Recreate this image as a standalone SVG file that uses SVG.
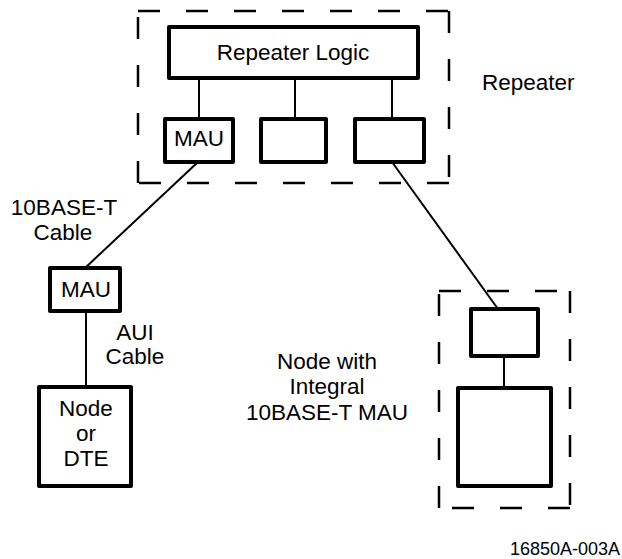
<svg xmlns="http://www.w3.org/2000/svg" width="622" height="559" viewBox="0 0 622 559">
  <style>
    .box { fill: #fff; stroke: #000; stroke-width: 4; stroke-linejoin: round; }
    .frame { fill: none; stroke: #000; stroke-width: 2.5; stroke-dasharray: 22 26; }
    .wire { fill: none; stroke: #000; stroke-width: 2; }
    text { font-family: "Liberation Sans", Arial, sans-serif; font-size: 22.5px; fill: #000; }
    .c { text-anchor: middle; }
    .tag { font-size: 18px; text-anchor: end; }
  </style>
  <rect width="622" height="559" fill="#fff"/>

  <!-- dashed enclosures -->
  <g id="repeater-frame">
    <path class="frame" d="M138 11 H449 M449 11 V183 M449 183 H138 M138 183 V11"/>
    <text x="482" y="90">Repeater</text>
  </g>
  <g id="node-frame">
    <path class="frame" d="M439 291 H570 M570 291 V508 M570 508 H439 M439 508 V291"/>
  </g>

  <!-- connectors -->
  <g id="connectors">
    <line class="wire" x1="199" y1="78" x2="199" y2="119"/>
    <line class="wire" x1="295" y1="78" x2="295" y2="119"/>
    <line class="wire" x1="392" y1="78" x2="392" y2="119"/>
    <line class="wire" x1="198" y1="162" x2="85" y2="268"/>
    <line class="wire" x1="392" y1="162" x2="498" y2="309"/>
    <line class="wire" x1="86" y1="311" x2="86" y2="387"/>
    <line class="wire" x1="504" y1="356" x2="504" y2="388"/>
  </g>

  <!-- nodes -->
  <g id="repeater-logic">
    <rect class="box" x="169" y="27" width="249" height="51"/>
    <text class="c" x="293" y="60">Repeater Logic</text>
  </g>
  <g id="repeater-mau">
    <rect class="box" x="165" y="119" width="68" height="43"/>
    <text class="c" x="199" y="146">MAU</text>
  </g>
  <g id="repeater-port2">
    <rect class="box" x="261" y="119" width="65" height="43"/>
  </g>
  <g id="repeater-port3">
    <rect class="box" x="355" y="119" width="69" height="43"/>
  </g>
  <g id="external-mau">
    <rect class="box" x="50" y="268" width="70" height="43"/>
    <text class="c" x="86" y="297">MAU</text>
  </g>
  <g id="dte-node">
    <rect class="box" x="39" y="387" width="92" height="99"/>
    <text class="c" x="86" y="416">Node</text>
    <text class="c" x="86" y="441">or</text>
    <text class="c" x="86" y="466">DTE</text>
  </g>
  <g id="integral-mau">
    <rect class="box" x="471" y="309" width="67" height="47"/>
  </g>
  <g id="integral-node">
    <rect class="box" x="458" y="388" width="93" height="98"/>
  </g>

  <!-- labels -->
  <g id="labels">
    <text class="c" x="64" y="215">10BASE-T</text>
    <text class="c" x="63" y="240">Cable</text>
    <text class="c" x="135" y="340">AUI</text>
    <text class="c" x="135" y="364">Cable</text>
    <text class="c" x="327" y="369">Node with</text>
    <text class="c" x="327" y="394">Integral</text>
    <text class="c" x="327" y="420">10BASE-T MAU</text>
    <text class="tag" x="620" y="555">16850A-003A</text>
  </g>
</svg>
